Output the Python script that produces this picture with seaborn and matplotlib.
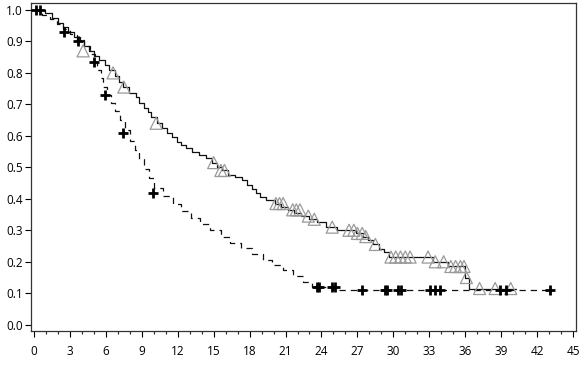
import matplotlib
matplotlib.use("Agg")
import matplotlib.pyplot as plt
from matplotlib.ticker import MultipleLocator
import seaborn as sns
import pandas as pd

# --- Curve A (solid line, triangle censor marks) ---
time_a = [0, 0.9, 1.5, 2.0, 2.4, 2.8, 3.3, 3.8, 4.2, 4.6, 5.0, 5.4, 5.9, 6.3, 6.8,
          7.1, 7.4, 7.9, 8.5, 8.8, 9.2, 9.5, 9.8, 10.3, 10.7, 11.1, 11.5, 11.9, 12.3,
          12.7, 13.2, 13.8, 14.4, 14.9, 15.3, 15.7, 16.2, 16.8, 17.4, 17.8, 18.2, 18.5,
          18.9, 19.4, 20.1, 20.6, 21.2, 21.7, 22.3, 23.0, 23.6, 24.4, 25.3, 26.9, 27.5,
          27.9, 28.3, 28.8, 29.2, 29.6, 33.3, 34.6, 36.0, 36.3, 40.2]
surv_a = [1.0, 0.99, 0.975, 0.96, 0.945, 0.93, 0.915, 0.90, 0.885, 0.87, 0.855, 0.84,
          0.825, 0.81, 0.79, 0.77, 0.755, 0.735, 0.725, 0.705, 0.69, 0.675, 0.66, 0.64,
          0.625, 0.61, 0.595, 0.58, 0.57, 0.56, 0.55, 0.54, 0.53, 0.515, 0.50, 0.49,
          0.475, 0.468, 0.46, 0.445, 0.43, 0.42, 0.405, 0.395, 0.385, 0.375, 0.365,
          0.355, 0.345, 0.335, 0.325, 0.31, 0.30, 0.29, 0.28, 0.27, 0.255, 0.24, 0.23,
          0.215, 0.20, 0.185, 0.15, 0.115, 0.115]
cens_time_a = [4.1, 6.6, 7.5, 10.2, 15.0, 15.6, 15.9, 20.2, 20.5, 20.8, 21.6, 21.9, 22.2,
               22.9, 23.4, 24.9, 26.3, 26.7, 27.0, 27.4, 27.7, 28.5, 29.8, 30.2, 30.6,
               31.0, 31.4, 32.9, 33.5, 34.2, 34.8, 35.2, 35.6, 35.9, 36.1, 37.2, 38.5, 39.8]
cens_surv_a = [0.87, 0.80, 0.755, 0.64, 0.515, 0.49, 0.49, 0.385, 0.385, 0.385, 0.365,
               0.365, 0.365, 0.345, 0.335, 0.31, 0.30, 0.30, 0.29, 0.29, 0.28, 0.255,
               0.215, 0.215, 0.215, 0.215, 0.215, 0.215, 0.20, 0.20, 0.185, 0.185, 0.185,
               0.185, 0.15, 0.115, 0.115, 0.115]

# --- Curve B (dashed line, plus censor marks) ---
time_b = [0, 0.7, 1.3, 1.9, 2.4, 3.0, 3.6, 4.2, 4.7, 5.1, 5.3, 5.6, 5.8, 6.1, 6.4, 6.8,
          7.2, 7.6, 8.0, 8.4, 8.8, 9.2, 9.6, 10.0, 10.8, 11.6, 12.3, 13.1, 13.9, 14.7,
          15.6, 16.4, 17.3, 18.2, 19.1, 19.9, 20.8, 21.6, 22.5, 23.2, 25.0, 43.1]
surv_b = [1.0, 0.985, 0.97, 0.955, 0.94, 0.925, 0.905, 0.885, 0.86, 0.835, 0.81, 0.785,
          0.755, 0.73, 0.705, 0.68, 0.65, 0.62, 0.585, 0.555, 0.525, 0.495, 0.465,
          0.435, 0.41, 0.385, 0.36, 0.34, 0.32, 0.30, 0.28, 0.26, 0.243, 0.225, 0.207,
          0.19, 0.174, 0.155, 0.137, 0.12, 0.11, 0.11]
cens_time_b = [0.2, 0.5, 2.5, 3.7, 5.0, 5.9, 7.4, 9.9, 23.6, 23.8, 24.9, 25.1, 27.4,
               29.3, 29.5, 30.4, 30.6, 33.1, 33.5, 33.9, 38.9, 39.4, 43.1]
cens_surv_b = [1.0, 1.0, 0.93, 0.90, 0.835, 0.73, 0.61, 0.42, 0.12, 0.12, 0.12, 0.12,
               0.11, 0.11, 0.11, 0.11, 0.11, 0.11, 0.11, 0.11, 0.11, 0.11, 0.11]

x_ticks = list(range(0, 46, 3))
y_ticks = [0.0, 0.1, 0.2, 0.3, 0.4, 0.5, 0.6, 0.7, 0.8, 0.9, 1.0]

sns.set_style("ticks")
plt.rcParams['font.family'] = ['Open Sans', 'DejaVu Sans']

fig = plt.figure(figsize=(5.85, 3.68), dpi=100)
ax = fig.add_axes([0.053, 0.1005, 0.9316, 0.8913])

df_a = pd.DataFrame({"t": time_a, "s": surv_a})
df_b = pd.DataFrame({"t": time_b, "s": surv_b})
sns.lineplot(data=df_a, x="t", y="s", ax=ax, color="#111111", linewidth=0.9,
             drawstyle="steps-post", estimator=None, sort=False)
sns.lineplot(data=df_b, x="t", y="s", ax=ax, color="#111111", linewidth=0.9,
             drawstyle="steps-post", estimator=None, sort=False,
             linestyle=(0, (5, 4)))

sns.scatterplot(x=cens_time_a, y=cens_surv_a, ax=ax, marker="^", s=75,
                facecolor="none", edgecolor="#9a9a9a", linewidth=0.9, zorder=3)
sns.scatterplot(x=cens_time_b, y=cens_surv_b, ax=ax, marker="+", s=60,
                color="black", linewidth=2.0, zorder=4)

ax.set_xlim(-0.25, 45.25)
ax.set_ylim(-0.02, 1.022)
ax.set_xticks(x_ticks)
ax.set_yticks(y_ticks)
ax.set_yticklabels([f"{v:.1f}" for v in y_ticks])
ax.xaxis.set_minor_locator(MultipleLocator(1))
ax.tick_params(axis="both", which="major", length=4, width=0.8, labelsize=8.5,
               colors="black", pad=2)
ax.tick_params(axis="x", which="major", pad=6)
ax.tick_params(axis="x", which="minor", length=2.5, width=0.8)
ax.set_xlabel("")
ax.set_ylabel("")
for sp in ax.spines.values():
    sp.set_visible(True)
    sp.set_color("#333333")
    sp.set_linewidth(0.9)

fig.savefig("out.png", dpi=100)
